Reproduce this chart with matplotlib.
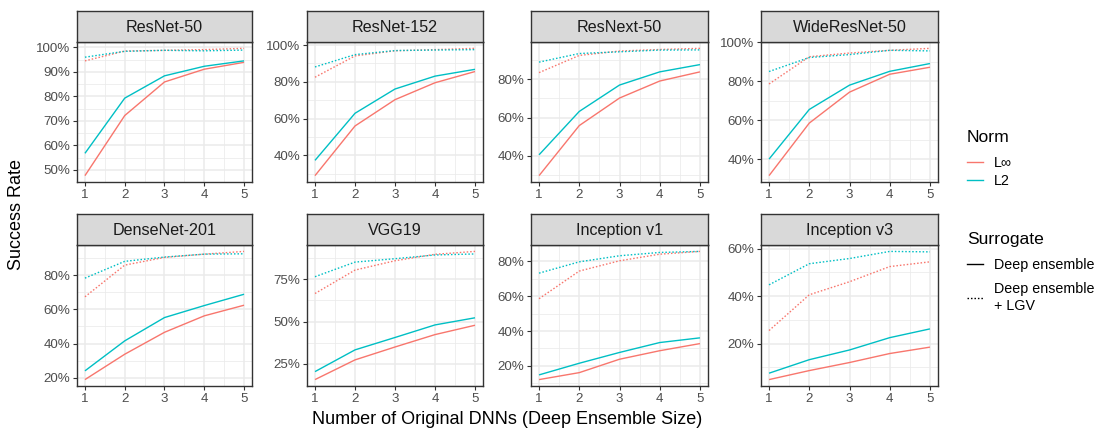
import matplotlib
matplotlib.use("Agg")
import matplotlib.pyplot as plt
from matplotlib.lines import Line2D
import numpy as np

plt.rcParams['font.family'] = ['Liberation Sans', 'DejaVu Sans']

# ---------------- data (success rate, %) ----------------
ensemble_size = [1, 2, 3, 4, 5]
panels = ["ResNet-50", "ResNet-152", "ResNext-50", "WideResNet-50",
          "DenseNet-201", "VGG19", "Inception v1", "Inception v3"]

linf_de = {
    "ResNet-50":     [47.7, 72.2, 85.9, 91.1, 93.9],
    "ResNet-152":    [29.0, 56.0, 70.3, 79.5, 85.6],
    "ResNext-50":    [29.6, 55.8, 70.2, 79.1, 83.9],
    "WideResNet-50": [31.5, 58.5, 74.4, 83.6, 87.2],
    "DenseNet-201":  [19.0, 33.8, 46.6, 56.2, 62.4],
    "VGG19":         [15.8, 27.4, 35.0, 42.3, 47.8],
    "Inception v1":  [12.1, 16.1, 23.8, 28.7, 32.8],
    "Inception v3":  [4.8, 8.6, 12.0, 15.8, 18.5],
}
l2_de = {
    "ResNet-50":     [56.8, 79.3, 88.4, 92.3, 94.5],
    "ResNet-152":    [37.3, 62.9, 76.1, 83.1, 86.8],
    "ResNext-50":    [40.5, 63.2, 77.0, 83.9, 87.7],
    "WideResNet-50": [40.0, 65.5, 78.0, 85.1, 89.1],
    "DenseNet-201":  [24.1, 41.6, 55.2, 62.2, 68.8],
    "VGG19":         [20.5, 33.3, 40.6, 48.0, 52.2],
    "Inception v1":  [14.8, 21.5, 27.7, 33.4, 36.1],
    "Inception v3":  [7.5, 13.2, 17.3, 22.5, 26.2],
}
linf_lgv = {
    "ResNet-50":     [94.5, 98.5, 98.8, 99.1, 99.6],
    "ResNet-152":    [82.5, 94.1, 96.9, 97.5, 98.2],
    "ResNext-50":    [83.5, 92.5, 94.8, 95.6, 96.2],
    "WideResNet-50": [78.6, 92.6, 94.5, 95.9, 96.9],
    "DenseNet-201":  [67.3, 85.8, 90.3, 92.2, 93.8],
    "VGG19":         [66.5, 80.3, 85.8, 89.6, 91.3],
    "Inception v1":  [58.6, 74.5, 80.4, 84.2, 85.8],
    "Inception v3":  [25.5, 40.6, 46.1, 52.5, 54.5],
}
l2_lgv = {
    "ResNet-50":     [96.0, 98.4, 98.8, 98.6, 98.9],
    "ResNet-152":    [88.1, 94.8, 97.0, 97.3, 97.5],
    "ResNext-50":    [89.0, 93.5, 94.4, 95.3, 95.4],
    "WideResNet-50": [85.0, 92.2, 93.7, 95.9, 95.6],
    "DenseNet-201":  [78.2, 88.0, 90.5, 92.2, 92.4],
    "VGG19":         [76.4, 85.0, 87.0, 89.2, 89.8],
    "Inception v1":  [73.3, 79.8, 83.3, 85.2, 85.8],
    "Inception v3":  [44.8, 53.7, 55.9, 58.9, 58.7],
}
y_ticks = {
    "ResNet-50":     [50, 60, 70, 80, 90, 100],
    "ResNet-152":    [40, 60, 80, 100],
    "ResNext-50":    [40, 60, 80],
    "WideResNet-50": [40, 60, 80, 100],
    "DenseNet-201":  [20, 40, 60, 80],
    "VGG19":         [25, 50, 75],
    "Inception v1":  [20, 40, 60, 80],
    "Inception v3":  [20, 40, 60],
}
norm_labels = ["L\u221e", "L2"]
surrogate_labels = ["Deep ensemble", "Deep ensemble\n+ LGV"]

# ---------------- style ----------------
RED = "#F8766D"
CYAN = "#00BFC4"
DOT = (0, (1.1, 1.4))
W, H = 1095, 428
fig = plt.figure(figsize=(W / 100, H / 100), dpi=100)

col_x = [(77, 252), (307, 483), (531, 708), (761, 938)]
row_y = [((11, 42), 182), ((214, 245), 386)]  # (strip top, strip bottom/plot top), plot bottom


def fx(px):
    return px / W


def fy(py):
    return 1 - py / H


for i, name in enumerate(panels):
    r, c = divmod(i, 4)
    (st, pt), pb = row_y[r]
    x0, x1 = col_x[c]
    ax = fig.add_axes([fx(x0), fy(pb), fx(x1) - fx(x0), fy(pt) - fy(pb)])
    sax = fig.add_axes([fx(x0), fy(pt), fx(x1) - fx(x0), fy(st) - fy(pt)])

    allv = linf_de[name] + l2_de[name] + linf_lgv[name] + l2_lgv[name]
    lo, hi = min(allv), max(allv)
    pad = 0.05 * (hi - lo)
    ylo, yhi = lo - pad, hi + pad
    ax.set_xlim(0.8, 5.2)
    ax.set_ylim(ylo, yhi)

    ticks = y_ticks[name]
    step = ticks[1] - ticks[0]
    minors = [t + step / 2 for t in [ticks[0] - step] + ticks]
    minors = [m for m in minors if ylo < m < yhi]
    for m in minors:
        ax.axhline(m, color="#EBEBEB", lw=0.55, zorder=0)
    for t in ticks:
        ax.axhline(t, color="#EBEBEB", lw=1.1, zorder=0)
    for m in [1.5, 2.5, 3.5, 4.5]:
        ax.axvline(m, color="#EBEBEB", lw=0.55, zorder=0)
    for t in ensemble_size:
        ax.axvline(t, color="#EBEBEB", lw=1.1, zorder=0)

    ax.plot(ensemble_size, linf_de[name], color=RED, lw=1.0, solid_capstyle="butt")
    ax.plot(ensemble_size, l2_de[name], color=CYAN, lw=1.0, solid_capstyle="butt")
    ax.plot(ensemble_size, linf_lgv[name], color=RED, lw=1.0, ls=DOT)
    ax.plot(ensemble_size, l2_lgv[name], color=CYAN, lw=1.0, ls=DOT)

    ax.set_yticks(ticks)
    ax.set_yticklabels([f"{t}%" for t in ticks])
    ax.set_xticks(ensemble_size)
    ax.tick_params(axis="both", colors="#333333", labelcolor="#4D4D4D",
                   labelsize=9.6, length=3, width=0.8, pad=2)
    for s in ax.spines.values():
        s.set_color("#333333")
        s.set_linewidth(1.0)

    sax.set_facecolor("#D9D9D9")
    sax.set_xticks([])
    sax.set_yticks([])
    for s in sax.spines.values():
        s.set_color("#333333")
        s.set_linewidth(1.0)
    sax.text(0.5, 0.47, name, ha="center", va="center", fontsize=11.6,
             color="#1A1A1A", transform=sax.transAxes)

fig.text(fx(507), fy(419), "Number of Original DNNs (Deep Ensemble Size)",
         ha="center", va="center", fontsize=13, color="black")
fig.text(fx(17), fy(214), "Success Rate", ha="center", va="center",
         rotation=90, fontsize=13, color="black")

# ---------------- legends ----------------
norm_handles = [Line2D([], [], color=RED, lw=1.0), Line2D([], [], color=CYAN, lw=1.0)]
leg1 = fig.legend(norm_handles, norm_labels, title="Norm", loc="upper left",
                  bbox_to_anchor=(fx(967), fy(130)), frameon=False,
                  fontsize=10.3, title_fontsize=12.6, handlelength=1.1,
                  handletextpad=0.8, labelspacing=0.3, alignment="left",
                  borderaxespad=0, borderpad=0)
leg1._legend_box.sep = 8
surr_handles = [Line2D([], [], color="black", lw=1.0),
                Line2D([], [], color="black", lw=1.0, ls=DOT)]
leg2 = fig.legend(surr_handles, surrogate_labels, title="Surrogate", loc="upper left",
                  bbox_to_anchor=(fx(967), fy(232)), frameon=False,
                  fontsize=10.3, title_fontsize=12.6, handlelength=1.1,
                  handletextpad=0.8, labelspacing=0.72, alignment="left",
                  borderaxespad=0, borderpad=0)
leg2._legend_box.sep = 8

fig.savefig("out.png", dpi=100)
